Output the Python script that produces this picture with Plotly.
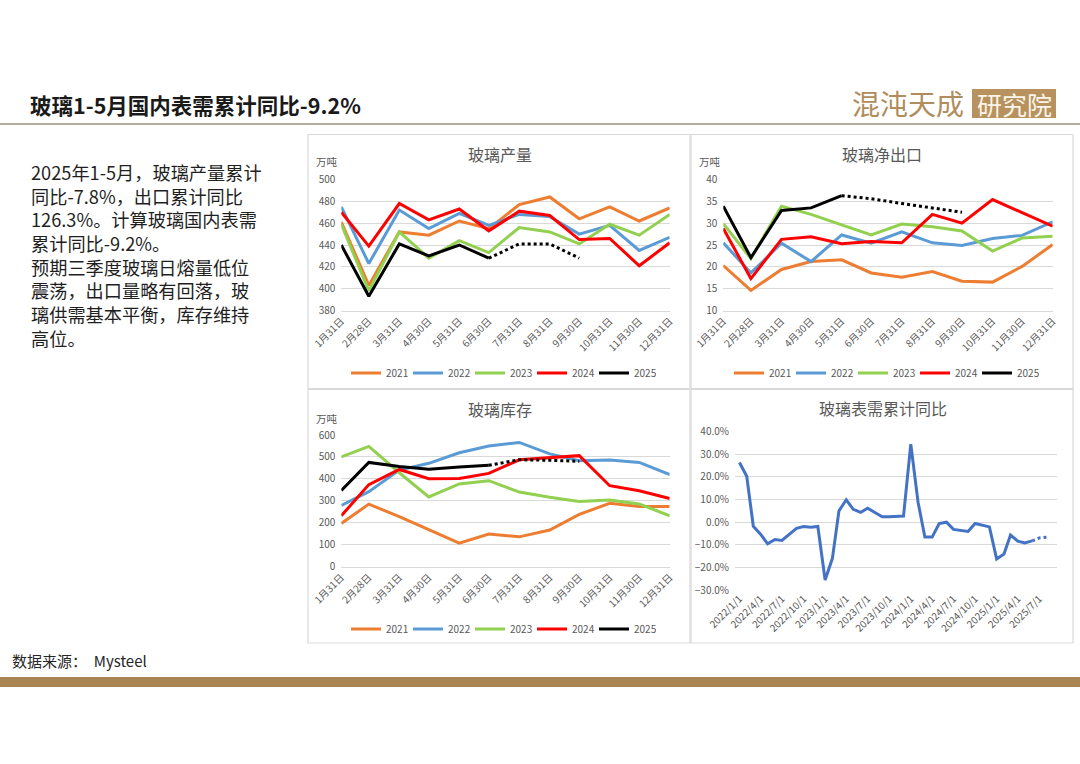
import plotly.graph_objects as go

W, H = 1080, 764
def px(x): return x / W
def py(y): return 1 - y / H

FONT = "Noto Sans CJK SC"
GRAY = "#595959"
GRID = "#d9d9d9"

# ---------------- data ----------------
month_dates = ["2021-01-31", "2021-02-28", "2021-03-31", "2021-04-30", "2021-05-31", "2021-06-30",
               "2021-07-31", "2021-08-31", "2021-09-30", "2021-10-31", "2021-11-30", "2021-12-31"]
month_labels = ["1月31日", "2月28日", "3月31日", "4月30日", "5月31日", "6月30日",
                "7月31日", "8月31日", "9月30日", "10月31日", "11月30日", "12月31日"]
years = ["2021", "2022", "2023", "2024", "2025"]
year_colors = ["#ED7D31", "#5B9BD5", "#92D050", "#FF0000", "#000000"]

# 玻璃产量 (万吨)
prod_2021 = [461, 403, 452, 449, 462, 455, 477, 484, 464, 475, 462, 474]
prod_2022 = [475, 423, 472, 455, 469, 458, 468, 466, 450, 458, 435, 447]
prod_2023 = [459, 398, 452, 428, 444, 433, 456, 452, 441, 459, 449, 468]
prod_2024 = [470, 439, 478, 463, 473, 453, 471, 467, 445, 446, 421, 442]
prod_2025 = [440, 393, 441, 430, 440, 428]
prod_2025_fc = [428, 441, 441, 428]          # 6月-9月 预测 (虚线)

# 玻璃净出口 (万吨)
exp_2021 = [20.3, 14.6, 19.4, 21.2, 21.6, 18.6, 17.6, 18.9, 16.7, 16.5, 20.1, 25.1]
exp_2022 = [25.5, 18.6, 25.4, 21.2, 27.3, 25.4, 28.0, 25.5, 24.9, 26.5, 27.2, 30.3]
exp_2023 = [29.9, 21.9, 33.9, 32.0, 29.6, 27.3, 29.8, 29.2, 28.2, 23.6, 26.6, 27.0]
exp_2024 = [28.8, 17.3, 26.3, 26.9, 25.3, 25.8, 25.5, 32.0, 30.0, 35.4, 32.4, 29.3]
exp_2025 = [33.9, 22.1, 32.9, 33.5, 36.3]
exp_2025_fc = [36.3, 35.6, 34.5, 33.5, 32.5]  # 5月-9月 预测 (虚线)

# 玻璃库存 (万吨)
inv_2021 = [197, 285, 228, 170, 107, 149, 136, 167, 238, 289, 274, 274]
inv_2022 = [279, 342, 440, 471, 519, 550, 566, 514, 483, 486, 475, 420]
inv_2023 = [500, 548, 428, 318, 377, 392, 340, 316, 297, 304, 286, 232]
inv_2024 = [232, 374, 443, 401, 402, 425, 487, 497, 506, 369, 346, 311]
inv_2025 = [347, 475, 456, 444, 454, 462]
inv_2025_fc = [462, 487, 485, 480]           # 6月-9月 预测 (虚线)

# 玻璃表需累计同比 (%)
yoy_dates = [f"{y}-{m:02d}-01" for y in (2022, 2023, 2024) for m in range(1, 13)] + \
            [f"2025-{m:02d}-01" for m in range(1, 7)]
yoy_values = [26.4, 20.3, -1.8, -5.3, -9.6, -7.7, -8.1, -5.3, -2.7, -1.9, -2.2, -1.9,
              -25.6, -16.0, 5.0, 9.9, 5.7, 4.3, 6.2, 4.3, 2.4, 2.4, 2.4, 2.7,
              34.5, 8.8, -6.6, -6.6, -0.6, 0.0, -3.2, -3.5, -4.1, -0.6, -1.3, -2.1,
              -16.3, -14.1, -5.7, -8.4, -9.2, -8.3]
yoy_fc_dates = ["2025-06-01", "2025-07-01", "2025-08-01"]
yoy_fc_values = [-8.3, -7.0, -6.7]
yoy_tick_dates = ["2022-01-01", "2022-04-01", "2022-07-01", "2022-10-01", "2023-01-01", "2023-04-01",
                  "2023-07-01", "2023-10-01", "2024-01-01", "2024-04-01", "2024-07-01", "2024-10-01",
                  "2025-01-01", "2025-04-01", "2025-07-01"]
yoy_tick_labels = ["2022/1/1", "2022/4/1", "2022/7/1", "2022/10/1", "2023/1/1", "2023/4/1",
                   "2023/7/1", "2023/10/1", "2024/1/1", "2024/4/1", "2024/7/1", "2024/10/1",
                   "2025/1/1", "2025/4/1", "2025/7/1"]

left_text = ["2025年1-5月，玻璃产量累计", "同比-7.8%，出口累计同比", "126.3%。计算玻璃国内表需",
             "累计同比-9.2%。", "预期三季度玻璃日熔量低位", "震荡，出口量略有回落，玻",
             "璃供需基本平衡，库存维持", "高位。"]

# ---------------- figure ----------------
fig = go.Figure()
LW = 3

def add_year_chart(series, fc_x, fc_y, xa, ya, legend):
    for name, vals, col in zip(years, series, year_colors):
        fig.add_trace(go.Scatter(x=month_dates[:len(vals)], y=vals, name=name, mode="lines",
                                 line=dict(color=col, width=LW), xaxis=xa, yaxis=ya, legend=legend))
    fig.add_trace(go.Scatter(x=fc_x, y=fc_y, mode="lines", showlegend=False,
                             line=dict(color="#000000", width=LW, dash="dot"), xaxis=xa, yaxis=ya))

add_year_chart([prod_2021, prod_2022, prod_2023, prod_2024, prod_2025],
               month_dates[5:9], prod_2025_fc, "x", "y", "legend")
add_year_chart([exp_2021, exp_2022, exp_2023, exp_2024, exp_2025],
               month_dates[4:9], exp_2025_fc, "x2", "y2", "legend2")
add_year_chart([inv_2021, inv_2022, inv_2023, inv_2024, inv_2025],
               month_dates[5:9], inv_2025_fc, "x3", "y3", "legend3")

fig.add_trace(go.Scatter(x=yoy_dates, y=[v / 100 for v in yoy_values], mode="lines", showlegend=False,
                         line=dict(color="#4472C4", width=LW), xaxis="x4", yaxis="y4"))
fig.add_trace(go.Scatter(x=yoy_fc_dates, y=[v / 100 for v in yoy_fc_values], mode="lines", showlegend=False,
                         line=dict(color="#4472C4", width=LW, dash="dot"), xaxis="x4", yaxis="y4"))

tickfont = dict(family=FONT, size=10, color=GRAY)

def month_xaxis(x0, x1, anchor):
    return dict(domain=[px(x0), px(x1)], anchor=anchor, type="date",
                range=[month_dates[0], month_dates[-1]], tickmode="array",
                tickvals=month_dates, ticktext=month_labels, tickangle=-45,
                tickfont=tickfont, showgrid=False, showline=True, linecolor=GRID,
                linewidth=1, ticks="", zeroline=False, fixedrange=True, automargin=False)

def val_yaxis(y0, y1, rng, dtick, anchor, fmt=None):
    d = dict(domain=[py(y1), py(y0)], anchor=anchor, range=rng, dtick=dtick, tick0=rng[0],
             tickfont=tickfont, showgrid=True, gridcolor=GRID, gridwidth=1,
             zeroline=False, showline=False, ticks="", ticklabelstandoff=5, automargin=False)
    if fmt:
        d["tickformat"] = fmt
    return d

legend_common = dict(orientation="h", font=dict(family=FONT, size=10, color=GRAY),
                     bgcolor="rgba(0,0,0,0)", xanchor="center", yanchor="middle",
                     entrywidth=17, itemwidth=30, tracegroupgap=0)

fig.update_layout(
    template="none",
    width=W, height=H, margin=dict(l=0, r=0, t=0, b=0, pad=0, autoexpand=False),
    paper_bgcolor="white", plot_bgcolor="white",
    font=dict(family=FONT, color=GRAY),
    xaxis=month_xaxis(341.3, 669.7, "y"),
    yaxis=val_yaxis(179.5, 310.5, [380, 500], 20, "x"),
    xaxis2=month_xaxis(723.3, 1052.7, "y2"),
    yaxis2=val_yaxis(179.5, 310.5, [10, 40], 5, "x2"),
    xaxis3=month_xaxis(341.3, 669.7, "y3"),
    yaxis3=val_yaxis(435, 566.7, [0, 600], 100, "x3"),
    xaxis4=dict(domain=[px(735), px(1057)], anchor="y4", type="date",
                range=["2021-12-13", "2025-09-15"], tickmode="array",
                tickvals=yoy_tick_dates, ticktext=yoy_tick_labels, tickangle=-45,
                tickfont=tickfont, showgrid=False, showline=False, ticks="",
                zeroline=False, fixedrange=True, automargin=False),
    yaxis4=val_yaxis(431.7, 590, [-0.3, 0.4], 0.1, "x4", fmt=".1%"),
    legend=dict(legend_common, x=px(501), y=py(373)),
    legend2=dict(legend_common, x=px(884), y=py(373)),
    legend3=dict(legend_common, x=px(501), y=py(629)),
    showlegend=True,
)

# ---------------- decorations ----------------
shapes = []
shapes.append(dict(type="line", xref="paper", yref="paper", x0=0, x1=1, y0=py(124), y1=py(124),
                   line=dict(color="#b3ad9f", width=2)))
shapes.append(dict(type="rect", xref="paper", yref="paper", x0=0, x1=1, y0=py(687), y1=py(677),
                   fillcolor="#a98553", line=dict(width=0)))
for (x0, y0, x1, y1) in [(308, 134.5, 690, 388.5), (691, 134.5, 1073, 388.5),
                         (308, 389.5, 690, 643), (691, 389.5, 1073, 643)]:
    shapes.append(dict(type="rect", xref="paper", yref="paper", x0=px(x0), x1=px(x1),
                       y0=py(y1), y1=py(y0), line=dict(color="#d9d9d9", width=1.2),
                       fillcolor="rgba(0,0,0,0)", layer="below"))
shapes.append(dict(type="rect", xref="paper", yref="paper", x0=px(972), x1=px(1056),
                   y0=py(118), y1=py(89), fillcolor="#b8925e", line=dict(width=0)))
fig.update_layout(shapes=shapes)

ann = []
def text(x, y, s, size, color="#262626", anchor="left", bold=False, family=FONT, yanchor="middle"):
    ann.append(dict(xref="paper", yref="paper", x=px(x), y=py(y), text=(f"<b>{s}</b>" if bold else s),
                    showarrow=False, xanchor=anchor, yanchor=yanchor, align="left",
                    font=dict(family=family, size=size, color=color)))

text(28, 105, "玻璃1-5月国内表需累计同比-9.2%", 21.5, color="#1a1a1a", bold=True)
text(908, 103, "混沌天成", 28, color="#b08d5c", anchor="center")
text(1014, 103.5, "研究院", 25, color="#fbf5ea", anchor="center")

# left commentary: one multi-line text block
text(29, 255, "<br>".join(left_text), 18.2, color="#1f1f1f")

text(10, 660, "数据来源：  Mysteel", 15, color="#262626")

text(500, 154, "玻璃产量", 16, color=GRAY, anchor="center")
text(882, 154, "玻璃净出口", 16, color=GRAY, anchor="center")
text(500, 409, "玻璃库存", 16, color=GRAY, anchor="center")
text(883, 408, "玻璃表需累计同比", 16, color=GRAY, anchor="center")
text(314, 161.5, "万吨", 10.5, color=GRAY)
text(697, 161.5, "万吨", 10.5, color=GRAY)
text(314, 418, "万吨", 10.5, color=GRAY)

fig.update_layout(annotations=ann)

fig.write_html("out.html", config={"displayModeBar": False},
               post_script="document.body.style.margin='0';document.body.style.overflow='hidden';")
